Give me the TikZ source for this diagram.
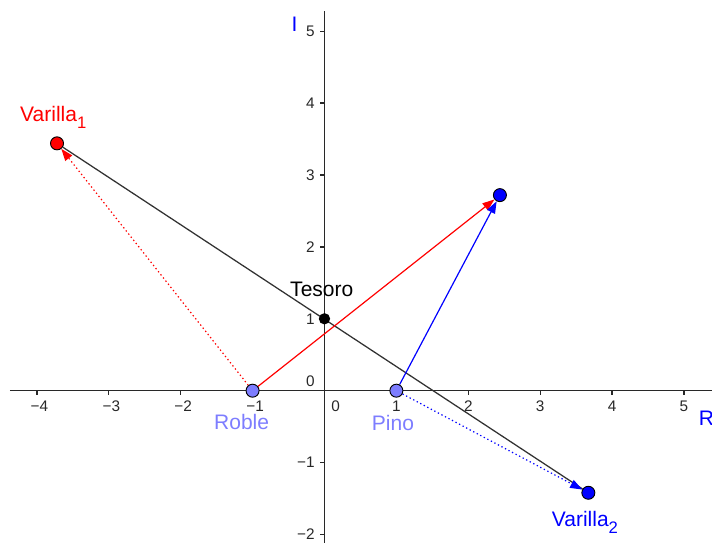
\documentclass[tikz,border=0pt]{standalone}
\usepackage{fontspec}
\setmainfont{Liberation Sans}
\usetikzlibrary{arrows.meta}
\definecolor{lightpt}{RGB}{125,125,255}
\definecolor{gbred}{RGB}{255,0,0}
\definecolor{gbblue}{RGB}{0,0,255}
\definecolor{axisgray}{RGB}{40,40,40}
\definecolor{seggray}{RGB}{50,50,50}
\newcommand{\sbs}[1]{\raisebox{-0.32em}{\fontsize{12.5}{14}\selectfont #1}}
\pgfdeclarelayer{bg}
\pgfsetlayers{bg,main}
\begin{document}
\begin{tikzpicture}[x=53.925pt,y=53.925pt,
  axisline/.style={draw=axisgray, line width=1pt},
  ticklab/.style={font=\fontsize{11.5}{13}\selectfont, text=axisgray, inner sep=0pt},
  ptlab/.style={font=\fontsize{15.75}{18}\selectfont, inner sep=0pt, anchor=base west},
  gpt/.style={circle, draw=black, line width=0.7pt, minimum size=9.75pt, inner sep=0pt},
  smallpt/.style={circle, fill=black, minimum size=8.5pt, inner sep=0pt},
  vec/.style={line width=0.9pt, -{Triangle[length=9pt,width=6.5pt]}},
  dotvec/.style={vec, dash pattern=on 1pt off 2pt},
]
\useasboundingbox (-4.513,-2.118) rectangle (5.390,5.434);

% points
\node[gpt, fill=lightpt] (Roble) at (-1,0) {};
\node[gpt, fill=lightpt] (Pino) at (1,0) {};
\node[gpt, fill=gbblue] (H) at (2.44,2.72) {};
\node[gpt, fill=gbred] (V1) at (-3.72,3.44) {};
\node[gpt, fill=gbblue] (V2) at (3.67,-1.42) {};
\node[smallpt] (T) at (0,1) {};

\begin{pgfonlayer}{bg}
% axes
\coordinate (xa) at (-4.374,0);
\coordinate (xb) at (5.390,0);
\coordinate (ya) at (0,-2.118);
\coordinate (yb) at (0,5.281);
\draw[axisline] (xa) -- (xb);
\draw[axisline] (ya) -- (yb);
\foreach \x in {-4,-3,-2,-1,1,2,3,4,5}
  \draw[axisline] (\x,0) -- ++(0,-3pt);
\foreach \y in {-2,-1,1,2,3,4,5}
  \draw[axisline] (0,\y) -- ++(-3pt,0);
\foreach \x/\t in {-4/−4,-3/−3,-2/−2,-1/−1}
  \node[ticklab, anchor=base] (xl\x) at (\x+0.035,-0.290) {\t};
\foreach \x in {1,2,3,4,5}
  \node[ticklab, anchor=base] (xl\x) at (\x,-0.290) {\x};
\node[ticklab, anchor=base] (xl0) at (0.155,-0.290) {0};
\foreach \y/\t in {-2/−2,-1/−1}
  \node[ticklab, anchor=east] (yl\y) at (-0.132,\y) {\t};
\foreach \y in {1,2,3,4,5}
  \node[ticklab, anchor=east] (yl\y) at (-0.132,\y) {\y};
\node[ticklab, anchor=east] (yl0) at (-0.132,0.125) {0};

% segment and vectors
\draw[seggray, line width=0.95pt] (V1) -- (V2);
\draw[vec, gbred] (Roble) -- (H);
\draw[vec, gbblue] (Pino) -- (H);
\draw[dotvec, gbred] (Roble) -- (V1);
\draw[dotvec, gbblue] (Pino) -- (V2);
\end{pgfonlayer}

% labels
\node[ptlab, text=gbred] (lV1) at (-4.235,3.741) {Varilla\sbs{1}};
\node[ptlab, text=gbblue] (lV2) at (3.160,-1.892) {Varilla\sbs{2}};
\node[ptlab, text=black] (lT) at (-0.480,1.317) {Tesoro};
\node[ptlab, text=lightpt] (lR) at (-1.537,-0.545) {Roble};
\node[ptlab, text=lightpt] (lP) at (0.656,-0.560) {Pino};
\node[ptlab, text=gbblue] (lI) at (-0.459,4.989) {I};
\node[ptlab, text=gbblue] (lRe) at (5.202,-0.491) {R};
\end{tikzpicture}
\end{document}
